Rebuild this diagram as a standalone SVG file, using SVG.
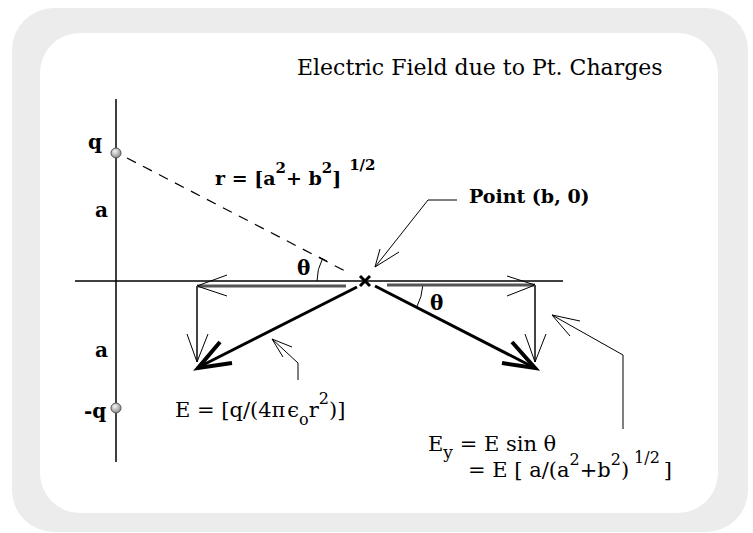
<svg xmlns="http://www.w3.org/2000/svg" width="753" height="533" viewBox="0 0 753 533">
<defs>
<radialGradient id="ball" cx="40%" cy="35%" r="65%"><stop offset="0" stop-color="#f6f6f6"/><stop offset="1" stop-color="#8a8a8a"/></radialGradient>
<style>
.t{font-family:"DejaVu Serif","Liberation Serif",serif;fill:#000}
.b{font-weight:bold}
.thin{stroke:#000;stroke-width:1;fill:none}
.axis{stroke:#000;stroke-width:1.5;fill:none}
.comp{stroke:#555;stroke-width:3;fill:none}
.compv{stroke:#444;stroke-width:2;fill:none}
.vec{stroke:#000;stroke-width:3;fill:none}
.head{stroke:#000;stroke-width:4;fill:none}
.dash{stroke:#000;stroke-width:1.2;fill:none;stroke-dasharray:10 8}
.charge{fill:url(#ball);stroke:#555;stroke-width:1}
</style>
</defs>
<rect x="12" y="8" width="736" height="524" rx="42" fill="#ececec"/>
<rect x="40" y="33" width="678" height="480" rx="40" fill="#fff"/>

<g id="title"><text class="t" x="297" y="75" font-size="22">Electric Field due to Pt. Charges</text></g>

<g id="axes">
<line class="axis" x1="116" y1="99" x2="116" y2="462"/>
<line class="axis" x1="75" y1="281" x2="563" y2="281"/>
</g>

<g id="connectors">
<line class="dash" x1="127" y1="158" x2="347" y2="272"/>
<path class="thin" d="M317,281 A48,48 0 0 1 322.5,258.7"/>
<line class="thin" x1="319" y1="257" x2="327" y2="261"/>
<path class="thin" d="M422.9,285 A58,58 0 0 1 416.6,307.4"/>
<line class="comp" x1="197" y1="286" x2="346" y2="286"/>
<line class="comp" x1="387" y1="285" x2="535" y2="285"/>
<polyline class="thin" points="227,275 197,286 227,296"/>
<polyline class="thin" points="507,276 535,285 507,296"/>
<line class="compv" x1="197" y1="286" x2="197" y2="362"/>
<line class="compv" x1="535" y1="285" x2="535" y2="362"/>
<polyline class="thin" points="187,334 197,362 208,334"/>
<polyline class="thin" points="525,334 535,362 546,334"/>
<line class="vec" x1="357" y1="287" x2="199" y2="367"/>
<line class="vec" x1="375" y1="286" x2="533" y2="367"/>
<polyline class="head" points="220,342 198,368 232,363"/>
<polyline class="head" points="512,342 535,368 502,363"/>
<polyline class="thin" points="457,200 428,200 375,267"/>
<polyline class="thin" points="380,249 375,267 399,252"/>
<polyline class="thin" points="298,380 298,363 272,339"/>
<polyline class="thin" points="292,347 272,339 283,357"/>
<polyline class="thin" points="623,429 623,355 552,315"/>
<polyline class="thin" points="580,321 552,315 570,336"/>
</g>

<g id="charge-q">
<circle class="charge" cx="116" cy="153" r="5"/>
<text class="t b" x="88" y="149" font-size="20">q</text>
</g>
<g id="charge-minus-q">
<circle class="charge" cx="116" cy="408" r="5"/>
<text class="t b" x="84" y="418" font-size="20">-q</text>
</g>
<g id="label-a-top"><text class="t b" x="95" y="217" font-size="20">a</text></g>
<g id="label-a-bottom"><text class="t b" x="95" y="357" font-size="20">a</text></g>

<g id="point">
<path d="M360,276 L370,286 M370,276 L360,286" stroke="#000" stroke-width="3"/>
<text class="t b" x="469" y="203" font-size="19">Point (b, 0)</text>
</g>

<g id="theta-left"><text class="t b" x="297" y="275" font-size="20">θ</text></g>
<g id="theta-right"><text class="t b" x="430" y="310" font-size="20">θ</text></g>

<g id="label-r">
<text class="t b" font-size="19" x="215" y="185">r = [a<tspan dy="-12" font-size="15">2</tspan><tspan dy="12">+ b</tspan><tspan dy="-12" font-size="15">2</tspan><tspan dy="12">]</tspan><tspan dx="8" dy="-15" font-size="15">1/2</tspan></text>
</g>

<g id="label-E">
<text class="t" font-size="21" x="175" y="417">E = [q/(4π<tspan dx="2">ϵ</tspan><tspan dy="8" font-size="16">o</tspan><tspan dy="-8">r</tspan><tspan dy="-13" font-size="16">2</tspan><tspan dy="13">)]</tspan></text>
</g>

<g id="label-Ey">
<text class="t" font-size="21" x="428" y="451">E<tspan dy="7" font-size="17">y</tspan><tspan dy="-7"> = E sin θ</tspan></text>
<text class="t" font-size="21" x="468" y="477">= E [ a/(a<tspan dy="-12" font-size="16">2</tspan><tspan dy="12">+b</tspan><tspan dy="-12" font-size="16">2</tspan><tspan dy="12">)</tspan><tspan dx="5" dy="-14" font-size="16">1/2</tspan><tspan dx="4" dy="14">]</tspan></text>
</g>
</svg>
